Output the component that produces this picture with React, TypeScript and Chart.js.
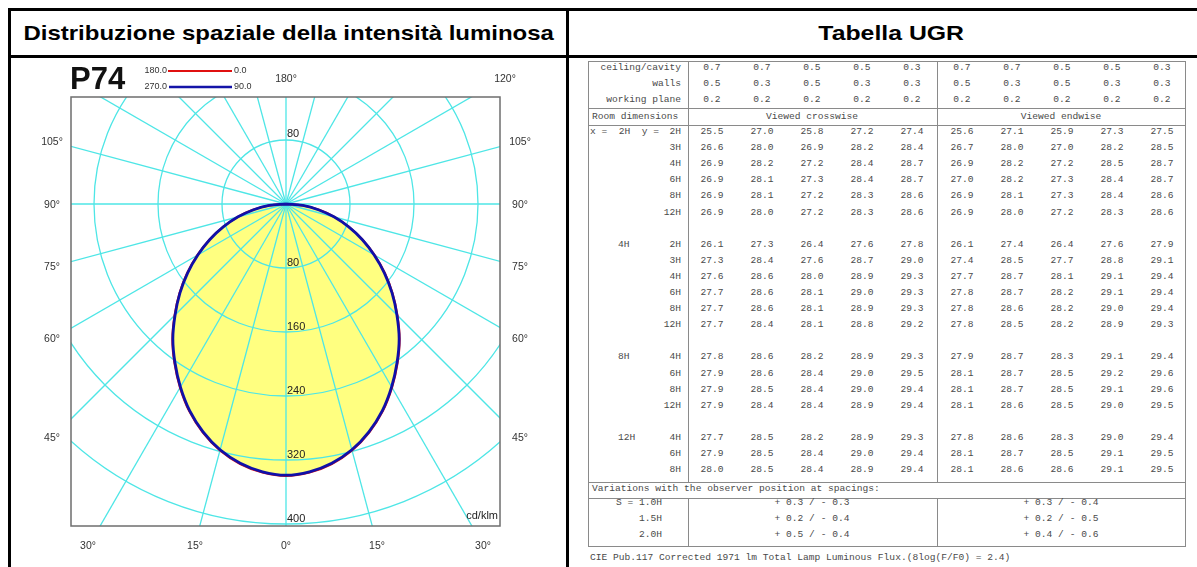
import React, { useEffect, useRef } from "react";
import { Chart, registerables } from "chart.js";

Chart.register(...registerables);

// ---------------- Photometric data (cd/klm) ----------------
const gammaAngles = [0, 5, 10, 15, 20, 25, 30, 35, 40, 45, 50, 55, 60, 65, 70, 75, 80, 85, 90];
const intensityC0 = [340, 337, 330, 319, 304, 286, 265, 243, 221, 197, 174, 151, 128, 106, 84, 63, 42, 21, 0];
const intensityC180 = [340, 337, 330, 319, 304, 286, 265, 243, 221, 197, 174, 151, 128, 106, 84, 63, 42, 21, 0];
const intensityC90 = [339, 336, 329, 318, 303, 285, 264, 242, 220, 196, 173, 150, 127, 105, 83, 62, 41, 21, 0];
const intensityC270 = [339, 336, 329, 318, 303, 285, 264, 242, 220, 196, 173, 150, 127, 105, 83, 62, 41, 21, 0];
const radialTicks = [80, 160, 240, 320, 400];
const gridAngleStep = 15;
const sideAngleLabels = ["105°", "90°", "75°", "60°", "45°"];
const bottomAngleLabels = ["30°", "15°", "0°", "15°", "30°"];
const topAngleLabels = ["180°", "120°"];
const legendRed = ["180.0", "0.0"];
const legendBlue = ["270.0", "90.0"];

// ---------------- UGR table data ----------------
const reflCeiling = ["0.7", "0.7", "0.5", "0.5", "0.3", "0.7", "0.7", "0.5", "0.5", "0.3"];
const reflWalls = ["0.5", "0.3", "0.5", "0.3", "0.3", "0.5", "0.3", "0.5", "0.3", "0.3"];
const reflPlane = ["0.2", "0.2", "0.2", "0.2", "0.2", "0.2", "0.2", "0.2", "0.2", "0.2"];
const roomX = ["2H", "4H", "8H", "12H"];
const roomY = [
  ["2H", "3H", "4H", "6H", "8H", "12H"],
  ["2H", "3H", "4H", "6H", "8H", "12H"],
  ["4H", "6H", "8H", "12H"],
  ["4H", "6H", "8H"],
];
const ugrCrosswise = [
  [
    ["25.5", "27.0", "25.8", "27.2", "27.4"],
    ["26.6", "28.0", "26.9", "28.2", "28.4"],
    ["26.9", "28.2", "27.2", "28.4", "28.7"],
    ["26.9", "28.1", "27.3", "28.4", "28.7"],
    ["26.9", "28.1", "27.2", "28.3", "28.6"],
    ["26.9", "28.0", "27.2", "28.3", "28.6"],
  ],
  [
    ["26.1", "27.3", "26.4", "27.6", "27.8"],
    ["27.3", "28.4", "27.6", "28.7", "29.0"],
    ["27.6", "28.6", "28.0", "28.9", "29.3"],
    ["27.7", "28.6", "28.1", "29.0", "29.3"],
    ["27.7", "28.6", "28.1", "28.9", "29.3"],
    ["27.7", "28.4", "28.1", "28.8", "29.2"],
  ],
  [
    ["27.8", "28.6", "28.2", "28.9", "29.3"],
    ["27.9", "28.6", "28.4", "29.0", "29.5"],
    ["27.9", "28.5", "28.4", "29.0", "29.4"],
    ["27.9", "28.4", "28.4", "28.9", "29.4"],
  ],
  [
    ["27.7", "28.5", "28.2", "28.9", "29.3"],
    ["27.9", "28.5", "28.4", "29.0", "29.4"],
    ["28.0", "28.5", "28.4", "28.9", "29.4"],
  ],
];
const ugrEndwise = [
  [
    ["25.6", "27.1", "25.9", "27.3", "27.5"],
    ["26.7", "28.0", "27.0", "28.2", "28.5"],
    ["26.9", "28.2", "27.2", "28.5", "28.7"],
    ["27.0", "28.2", "27.3", "28.4", "28.7"],
    ["26.9", "28.1", "27.3", "28.4", "28.6"],
    ["26.9", "28.0", "27.2", "28.3", "28.6"],
  ],
  [
    ["26.1", "27.4", "26.4", "27.6", "27.9"],
    ["27.4", "28.5", "27.7", "28.8", "29.1"],
    ["27.7", "28.7", "28.1", "29.1", "29.4"],
    ["27.8", "28.7", "28.2", "29.1", "29.4"],
    ["27.8", "28.6", "28.2", "29.0", "29.4"],
    ["27.8", "28.5", "28.2", "28.9", "29.3"],
  ],
  [
    ["27.9", "28.7", "28.3", "29.1", "29.4"],
    ["28.1", "28.7", "28.5", "29.2", "29.6"],
    ["28.1", "28.7", "28.5", "29.1", "29.6"],
    ["28.1", "28.6", "28.5", "29.0", "29.5"],
  ],
  [
    ["27.8", "28.6", "28.3", "29.0", "29.4"],
    ["28.1", "28.7", "28.5", "29.1", "29.5"],
    ["28.1", "28.6", "28.6", "29.1", "29.5"],
  ],
];
const spacingLabels = ["S = 1.0H", "1.5H", "2.0H"];
const variationCrosswise = ["+ 0.3 / - 0.3", "+ 0.2 / - 0.4", "+ 0.5 / - 0.4"];
const variationEndwise = ["+ 0.3 / - 0.4", "+ 0.2 / - 0.5", "+ 0.4 / - 0.6"];
const footnote = "CIE Pub.117 Corrected 1971 lm Total Lamp Luminous Flux.(8log(F/F0) = 2.4)";

// ---------------- helpers ----------------
function curvePoints(left: number[], right: number[]) {
  const pts: { x: number; y: number }[] = [];
  for (let i = gammaAngles.length - 1; i >= 0; i--) {
    const g = (gammaAngles[i] * Math.PI) / 180;
    pts.push({ x: -left[i] * Math.sin(g), y: left[i] * Math.cos(g) });
  }
  for (let i = 1; i < gammaAngles.length; i++) {
    const g = (gammaAngles[i] * Math.PI) / 180;
    pts.push({ x: right[i] * Math.sin(g), y: right[i] * Math.cos(g) });
  }
  return pts;
}

const CANVAS_LEFT = 11;
const CANVAS_TOP = 58;
const CANVAS_W = 555;
const CANVAS_H = 509;

const polarPlugin = {
  id: "polarDecor",
  afterDatasetDraw(chart: any, args: any) {
    if (args.index !== 2) return;
    const { ctx, chartArea } = chart;
    const xs = chart.scales.x;
    const ys = chart.scales.y;
    const cx = xs.getPixelForValue(0);
    const cy = ys.getPixelForValue(0);
    const unit = xs.getPixelForValue(1) - cx;
    ctx.save();
    ctx.beginPath();
    ctx.rect(chartArea.left, chartArea.top, chartArea.right - chartArea.left, chartArea.bottom - chartArea.top);
    ctx.clip();
    ctx.strokeStyle = "#4ee6e6";
    ctx.lineWidth = 1.3;
    for (const r of radialTicks) {
      ctx.beginPath();
      ctx.arc(cx, cy, r * unit, 0, Math.PI * 2);
      ctx.stroke();
    }
    for (let a = 0; a < 360; a += gridAngleStep) {
      const rad = (a * Math.PI) / 180;
      ctx.beginPath();
      ctx.moveTo(cx, cy);
      ctx.lineTo(cx + 1200 * Math.sin(rad), cy + 1200 * Math.cos(rad));
      ctx.stroke();
    }
    ctx.restore();
  },
  afterDraw(chart: any) {
    const { ctx, chartArea } = chart;
    const xs = chart.scales.x;
    const ys = chart.scales.y;
    const cx = xs.getPixelForValue(0);
    const cy = ys.getPixelForValue(0);
    const unit = xs.getPixelForValue(1) - cx;
    ctx.save();
    // frame
    ctx.strokeStyle = "#6e6e6e";
    ctx.lineWidth = 1.5;
    ctx.strokeRect(chartArea.left, chartArea.top, chartArea.right - chartArea.left, chartArea.bottom - chartArea.top);

    // radial labels
    ctx.fillStyle = "#222";
    ctx.font = "11px 'Liberation Sans', Arial, sans-serif";
    ctx.textAlign = "left";
    ctx.textBaseline = "middle";
    for (const r of radialTicks) {
      ctx.fillText(String(r), cx + 1, cy + r * unit - 5);
    }
    ctx.fillText(String(radialTicks[0]), cx + 1, cy - radialTicks[0] * unit - 6);
    ctx.textAlign = "right";
    ctx.fillText("cd/klm", chartArea.right - 2, chartArea.bottom - 10);

    // angle labels
    ctx.fillStyle = "#333";
    ctx.font = "10.5px 'Liberation Sans', Arial, sans-serif";
    ctx.textAlign = "center";
    const sideOffsets = [-62, 1, 63, 135, 234];
    sideAngleLabels.forEach((t, i) => {
      ctx.fillText(t, chartArea.left - 19, cy + sideOffsets[i]);
      ctx.fillText(t, chartArea.right + 20, cy + sideOffsets[i]);
    });
    const bottomOffsets = [-198, -91, 0, 91, 197];
    bottomAngleLabels.forEach((t, i) => {
      ctx.fillText(t, cx + bottomOffsets[i], chartArea.bottom + 20);
    });
    ctx.fillText(topAngleLabels[0], cx, chartArea.top - 18);
    ctx.fillText(topAngleLabels[1], cx + 219, chartArea.top - 18);

    // title P74
    ctx.fillStyle = "#111";
    ctx.font = "bold 31px 'Liberation Sans', Arial, sans-serif";
    ctx.textAlign = "left";
    ctx.fillText("P74", chartArea.left - 1, chartArea.top - 17);

    // custom legend
    const lx0 = chartArea.left + 97;
    const lx1 = chartArea.left + 161;
    ctx.font = "9px 'Liberation Sans', Arial, sans-serif";
    ctx.fillStyle = "#333";
    ctx.textAlign = "right";
    ctx.fillText(legendRed[0], lx0 - 1, chartArea.top - 26);
    ctx.fillText(legendBlue[0], lx0 - 1, chartArea.top - 10);
    ctx.textAlign = "left";
    ctx.fillText(legendRed[1], lx1 + 2, chartArea.top - 26);
    ctx.fillText(legendBlue[1], lx1 + 2, chartArea.top - 10);
    ctx.lineWidth = 2.2;
    ctx.strokeStyle = "#e01010";
    ctx.beginPath();
    ctx.moveTo(lx0, chartArea.top - 26);
    ctx.lineTo(lx1, chartArea.top - 26);
    ctx.stroke();
    ctx.lineWidth = 2.6;
    ctx.strokeStyle = "#1414a8";
    ctx.beginPath();
    ctx.moveTo(lx0 + 1, chartArea.top - 10);
    ctx.lineTo(lx1, chartArea.top - 10);
    ctx.stroke();
    ctx.restore();
  },
};

function PolarChart() {
  const ref = useRef<HTMLCanvasElement | null>(null);
  useEffect(() => {
    if (!ref.current) return;
    const blue = curvePoints(intensityC270, intensityC90);
    const red = curvePoints(intensityC180, intensityC0);
    const chart = new Chart(ref.current, {
      type: "scatter",
      data: {
        datasets: [
          {
            label: "C90-C270",
            data: blue,
            showLine: true,
            borderColor: "#1010a8",
            borderWidth: 2.8,
            pointRadius: 0,
            tension: 0.4,
            fill: false,
          },
          {
            label: "C0-C180",
            data: red,
            showLine: true,
            borderColor: "#e01010",
            borderWidth: 2.1,
            pointRadius: 0,
            tension: 0.4,
            fill: false,
          },
          {
            label: "area",
            data: blue,
            showLine: true,
            borderColor: "rgba(0,0,0,0)",
            borderWidth: 0,
            backgroundColor: "#ffff80",
            pointRadius: 0,
            tension: 0.4,
            fill: "shape",
          },
        ],
      } as any,
      options: {
        animation: false,
        responsive: false,
        devicePixelRatio: 1,
        events: [],
        layout: { padding: { left: 60, top: 39, right: 66, bottom: 41 } },
        scales: {
          x: { type: "linear", display: false, min: -268.75, max: 267.5 },
          y: { type: "linear", display: false, min: -133.75, max: 402.5, reverse: true },
        },
        plugins: { legend: { display: false }, tooltip: { enabled: false } },
      } as any,
      plugins: [polarPlugin as any],
    });
    return () => chart.destroy();
  }, []);
  return (
    <canvas
      ref={ref}
      width={CANVAS_W}
      height={CANVAS_H}
      style={{ position: "absolute", left: CANVAS_LEFT, top: CANVAS_TOP, width: CANVAS_W, height: CANVAS_H }}
    />
  );
}

type Align = "left" | "center" | "right";
function T({ x, y, align = "center", children }: { x: number; y: number; align?: Align; children: any }) {
  const tx = align === "left" ? "0" : align === "center" ? "-50%" : "-100%";
  return (
    <div
      style={{
        position: "absolute",
        left: x,
        top: y,
        transform: `translate(${tx}, -50%)`,
        whiteSpace: "pre",
        lineHeight: 1,
      }}
    >
      {children}
    </div>
  );
}

function Line({ x, y, w, h, color }: { x: number; y: number; w: number; h: number; color: string }) {
  return <div style={{ position: "absolute", left: x, top: y, width: w, height: h, background: color }} />;
}

const colCenters = [712, 762, 812, 862, 912, 962, 1012, 1062, 1112, 1162];
const ROW0 = 132;
const PITCH = 16.1;

function UgrTable() {
  const cells: any[] = [];
  let k = 0;
  const headerRows = [reflCeiling, reflWalls, reflPlane];
  const headerLabels = ["ceiling/cavity", "walls", "working plane"];
  const headerY = [68, 84, 100];
  headerRows.forEach((row, r) => {
    cells.push(<T key={k++} x={681} y={headerY[r]} align="right">{headerLabels[r]}</T>);
    row.forEach((v, c) => cells.push(<T key={k++} x={colCenters[c]} y={headerY[r]}>{v}</T>));
  });
  cells.push(<T key={k++} x={592} y={117} align="left">Room dimensions</T>);
  cells.push(<T key={k++} x={812} y={117}>Viewed crosswise</T>);
  cells.push(<T key={k++} x={1061} y={117}>Viewed endwise</T>);

  let idx = 0;
  roomX.forEach((gx, g) => {
    roomY[g].forEach((gy, r) => {
      const y = ROW0 + idx * PITCH;
      if (r === 0) {
        if (g === 0) cells.push(<T key={k++} x={590} y={y} align="left">{"x =  " + gx + "  y ="}</T>);
        else cells.push(<T key={k++} x={618} y={y} align="left">{gx}</T>);
      }
      cells.push(<T key={k++} x={681} y={y} align="right">{gy}</T>);
      ugrCrosswise[g][r].forEach((v, c) => cells.push(<T key={k++} x={colCenters[c]} y={y}>{v}</T>));
      ugrEndwise[g][r].forEach((v, c) => cells.push(<T key={k++} x={colCenters[c + 5]} y={y}>{v}</T>));
      idx++;
    });
    idx++;
  });

  cells.push(<T key={k++} x={592} y={489} align="left">Variations with the observer position at spacings:</T>);
  const varY = [503, 519, 535];
  spacingLabels.forEach((s, i) => {
    cells.push(<T key={k++} x={662} y={varY[i]} align="right">{s}</T>);
    cells.push(<T key={k++} x={812} y={varY[i]}>{variationCrosswise[i]}</T>);
    cells.push(<T key={k++} x={1061} y={varY[i]}>{variationEndwise[i]}</T>);
  });
  cells.push(<T key={k++} x={590} y={558} align="left">{footnote}</T>);

  const g = "#8a8a8a";
  return (
    <div style={{ fontFamily: "'Liberation Mono', 'Courier New', monospace", fontSize: 9.6, color: "#4a4a4a" }}>
      <Line x={588} y={61} w={598} h={1} color={g} />
      <Line x={588} y={108} w={598} h={1} color={g} />
      <Line x={588} y={125} w={598} h={1} color={g} />
      <Line x={588} y={482} w={598} h={1} color={g} />
      <Line x={588} y={498} w={598} h={1} color={g} />
      <Line x={588} y={546} w={598} h={1} color={g} />
      <Line x={588} y={61} w={1} h={486} color={g} />
      <Line x={1185} y={61} w={1} h={486} color={g} />
      <Line x={688} y={61} w={1} h={421} color={g} />
      <Line x={937} y={61} w={1} h={421} color={g} />
      <Line x={688} y={498} w={1} h={48} color={g} />
      <Line x={937} y={498} w={1} h={48} color={g} />
      {cells}
    </div>
  );
}

const headerStyle: any = {
  position: "absolute",
  top: 11,
  height: 44,
  display: "flex",
  alignItems: "center",
  justifyContent: "center",
  fontWeight: "bold",
  fontSize: 20.5,
  color: "#000",
  whiteSpace: "nowrap",
};

export default function App() {
  return (
    <div
      style={{
        position: "absolute",
        left: 0,
        top: 0,
        width: 1197,
        height: 567,
        overflow: "hidden",
        background: "#fff",
        fontFamily: "'Liberation Sans', Arial, sans-serif",
      }}
    >
      <PolarChart />
      <UgrTable />
      {/* outer frame */}
      <Line x={8} y={8} w={1189} h={3} color="#000" />
      <Line x={8} y={55} w={1189} h={3} color="#000" />
      <Line x={8} y={8} w={3} h={559} color="#000" />
      <Line x={566} y={8} w={3} h={559} color="#000" />
      <div style={{ ...headerStyle, left: 11, width: 555 }}>
        <span style={{ display: "inline-block", transform: "scaleX(1.17)" }}>
          Distribuzione spaziale della intensità luminosa
        </span>
      </div>
      <div style={{ ...headerStyle, left: 791, width: 200 }}>
        <span style={{ display: "inline-block", transform: "scaleX(1.21)" }}>Tabella UGR</span>
      </div>
    </div>
  );
}
